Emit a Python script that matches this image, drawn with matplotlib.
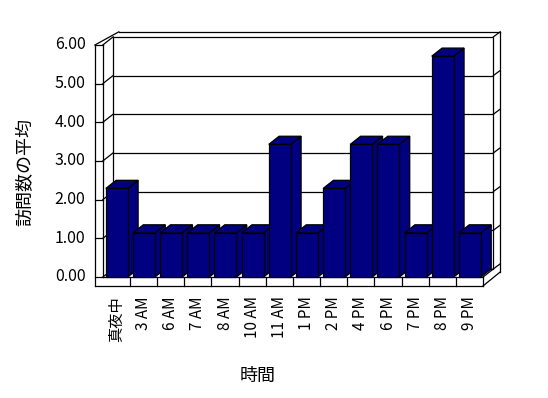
import matplotlib
matplotlib.use('Agg')
from matplotlib import pyplot as plt
from matplotlib.patches import Polygon, Rectangle

plt.rcParams['font.family'] = ['Noto Sans CJK JP', 'DejaVu Sans']

# data
hours = ['真夜中', '3 AM', '6 AM', '7 AM', '8 AM', '10 AM', '11 AM',
         '1 PM', '2 PM', '4 PM', '6 PM', '7 PM', '8 PM', '9 PM']
visits = [2.29, 1.14, 1.14, 1.14, 1.14, 1.14, 3.43,
          1.14, 2.29, 3.43, 3.43, 1.14, 5.71, 1.14]
yticks = [0, 1, 2, 3, 4, 5, 6]
ylabels = ['%.2f' % v for v in yticks]

navy = '#000080'
n = len(hours)
ymax = yticks[-1]

# 3d look (data units: x = categories, y = values)
DX, DY = 0.38, 0.21     # depth of plot / bars
WX, FY = 0.29, 0.23     # wall and floor thickness
TX, TY = 0.25, 0.13     # back wall thickness
BL, BW = 0.11, 0.81     # bar offset and width inside a category

fig = plt.figure(figsize=(5.48, 3.98), dpi=100)
ax = fig.add_axes([0, 0, 1, 1])
ax.set_xlim(-3.785, 16.39)
ax.set_ylim(-3.129, 7.163)
ax.axis('off')

lw = 0.9
k = dict(color='black', lw=lw, zorder=1)

# back wall
ax.add_patch(Rectangle((DX, DY), n, ymax, fc='white', ec='black', lw=lw, zorder=1))
for v in yticks[1:-1]:
    ax.plot([DX, n + DX], [v + DY, v + DY], **k)
# left wall ticks
for v in yticks:
    ax.plot([-WX, 0], [v, v], **k)
    ax.plot([0, DX], [v, v + DY], **k)
    ax.plot([n + DX, n + DX + TX], [v + DY, v + DY + TY], **k)
ax.plot([-WX, -WX], [-FY, ymax], **k)
ax.plot([0, 0], [0, ymax], **k)
ax.plot([-WX, DX + TX - 0.04], [ymax, ymax + DY + TY], **k)
ax.plot([DX + TX - 0.04, n + DX + TX], [ymax + DY + TY, ymax + DY + TY], **k)
ax.plot([n + DX + TX, n + DX + TX], [ymax + DY + TY, TY], **k)
ax.plot([n + DX + TX, n], [TY, -FY], **k)
# floor
ax.plot([-WX, n], [-FY, -FY], **k)
ax.plot([0, n], [0, 0], **k)
ax.plot([n, n + DX], [0, DY], **k)
for i in range(1, n + 1):
    ax.plot([i, i], [-FY, 0], **k)

# bars
for i, v in enumerate(visits):
    z = 3 + i * 0.1
    l = i + BL
    r = l + BW
    side = Polygon([(r, 0), (r, v), (r + DX, v + DY), (r + DX, DY)],
                   fc=navy, ec='black', lw=lw, zorder=z)
    top = Polygon([(l, v), (l + DX, v + DY), (r + DX, v + DY), (r, v)],
                  fc=navy, ec='black', lw=lw, zorder=z)
    ax.add_patch(side)
    ax.add_patch(top)
    ax.bar([l], [v], width=BW, align='edge', color=navy,
           edgecolor='black', linewidth=lw, zorder=z + 0.01)

# labels
for v, s in zip(yticks, ylabels):
    ax.text(-0.64, v, s, ha='right', va='center', fontsize=11.5)
for i, s in enumerate(hours):
    ax.text(i + 0.5, -0.5, s, rotation=90, ha='center', va='top', fontsize=11)
ax.text(5.71, -2.56, '時間', ha='center', va='center', fontsize=13)
ax.text(-2.86, 2.72, '訪問数の平均', rotation=90, ha='center', va='center', fontsize=13)

plt.savefig('out.png', dpi=100)
